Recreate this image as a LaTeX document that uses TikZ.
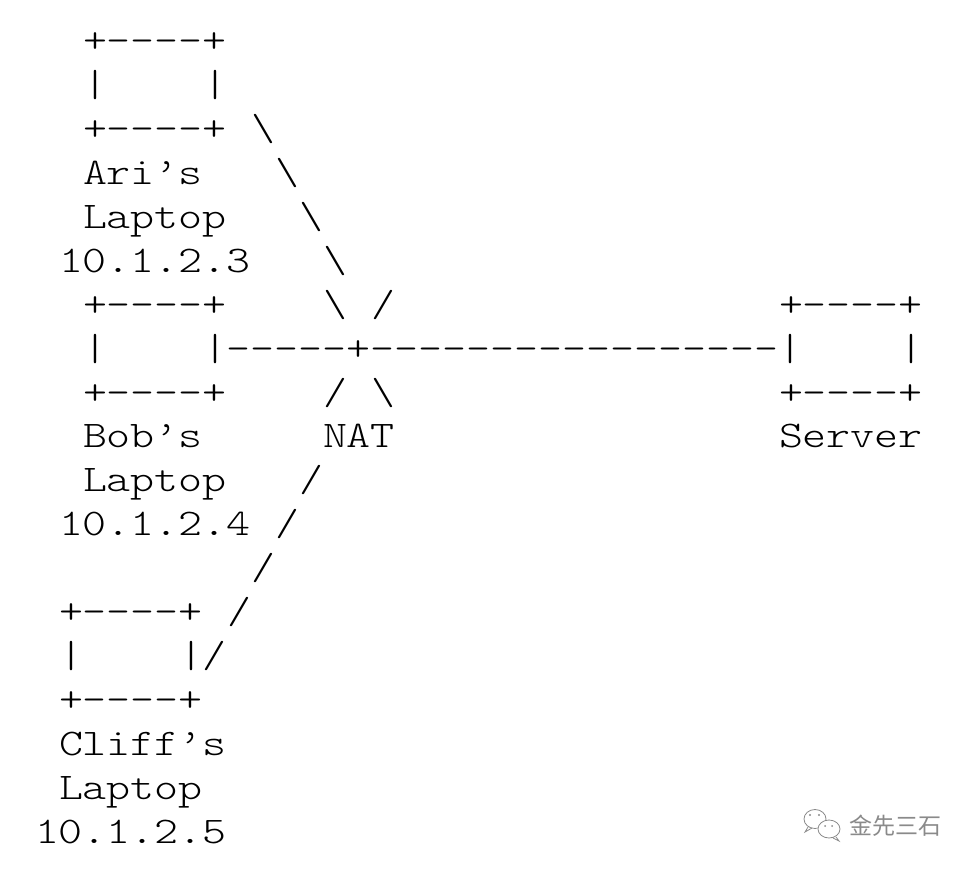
\documentclass[tikz,border=0pt]{standalone}
\usepackage{fontspec}
\newfontfamily\courfont{lmmonolt10-regular.otf}[FakeStretch=1.215]
\newfontfamily\cjkfont{Noto Sans CJK SC}
\definecolor{wm}{HTML}{8A8A8A}
\newcommand\asciiseg[4]{\node[asc] (#1) at ({35+24*#2},{-(843-(19-#3)*43.9)}) {#4};}
\newcommand\bs{\textbackslash}
\begin{document}
\begin{tikzpicture}[x=1pt,y=1pt,
  asc/.style={anchor=base west, inner sep=0pt, outer sep=0pt,
    font=\courfont\fontsize{37.6}{40}\selectfont},
  wmline/.style={draw=wm, line width=0.8pt}]
\useasboundingbox (0,0) rectangle (976,-869);
% Ari's laptop
\asciiseg{a1}{2}{1}{+----+}
\asciiseg{a2l}{2}{2}{|}
\asciiseg{a2r}{7}{2}{|}
\asciiseg{a3}{2}{3}{+----+}
\asciiseg{d3}{9}{3}{\bs}
\asciiseg{a4}{2}{4}{Ari’s}
\asciiseg{d4}{10}{4}{\bs}
\asciiseg{a5}{2}{5}{Laptop}
\asciiseg{d5}{11}{5}{\bs}
\asciiseg{a6}{1}{6}{10.1.2.3}
\asciiseg{d6}{12}{6}{\bs}
% Bob's laptop, NAT, server
\asciiseg{b7}{2}{7}{+----+}
\asciiseg{d7a}{12}{7}{\bs}
\asciiseg{d7b}{14}{7}{/}
\asciiseg{s7}{31}{7}{+----+}
\asciiseg{b8}{2}{8}{|}
\asciiseg{link}{7}{8}{|-----+-----------------|}
\asciiseg{s8}{36}{8}{|}
\asciiseg{b9}{2}{9}{+----+}
\asciiseg{d9a}{12}{9}{/}
\asciiseg{d9b}{14}{9}{\bs}
\asciiseg{s9}{31}{9}{+----+}
\asciiseg{b10}{2}{10}{Bob’s}
\asciiseg{nat}{12}{10}{NAT}
\asciiseg{srv}{31}{10}{Server}
\asciiseg{b11}{2}{11}{Laptop}
\asciiseg{d11}{11}{11}{/}
\asciiseg{b12}{1}{12}{10.1.2.4}
\asciiseg{d12}{10}{12}{/}
\asciiseg{d13}{9}{13}{/}
% Cliff's laptop
\asciiseg{c14}{1}{14}{+----+}
\asciiseg{d14}{8}{14}{/}
\asciiseg{c15l}{1}{15}{|}
\asciiseg{c15r}{6}{15}{|/}
\asciiseg{c16}{1}{16}{+----+}
\asciiseg{c17}{1}{17}{Cliff’s}
\asciiseg{c18}{1}{18}{Laptop}
\asciiseg{c19}{0}{19}{10.1.2.5}
% watermark
\draw[wmline] (815,-819) ellipse [x radius=11, y radius=9.5];
\draw[wmline] (808,-827) -- (805,-832) -- (812,-828);
\fill[white] (829,-829) ellipse [x radius=11.5, y radius=9.5];
\draw[wmline] (829,-829) ellipse [x radius=11, y radius=9];
\draw[wmline] (836,-837) -- (839,-841) -- (833,-838);
\fill[wm] (810,-815) circle (1.1) (819,-815) circle (1.1) (825,-826) circle (1) (832,-826) circle (1);
\node[anchor=west, inner sep=0pt, text=wm, font=\cjkfont\fontsize{23}{23}\selectfont] (wmtext) at (849,-826) {金先三石};
\end{tikzpicture}
\end{document}
